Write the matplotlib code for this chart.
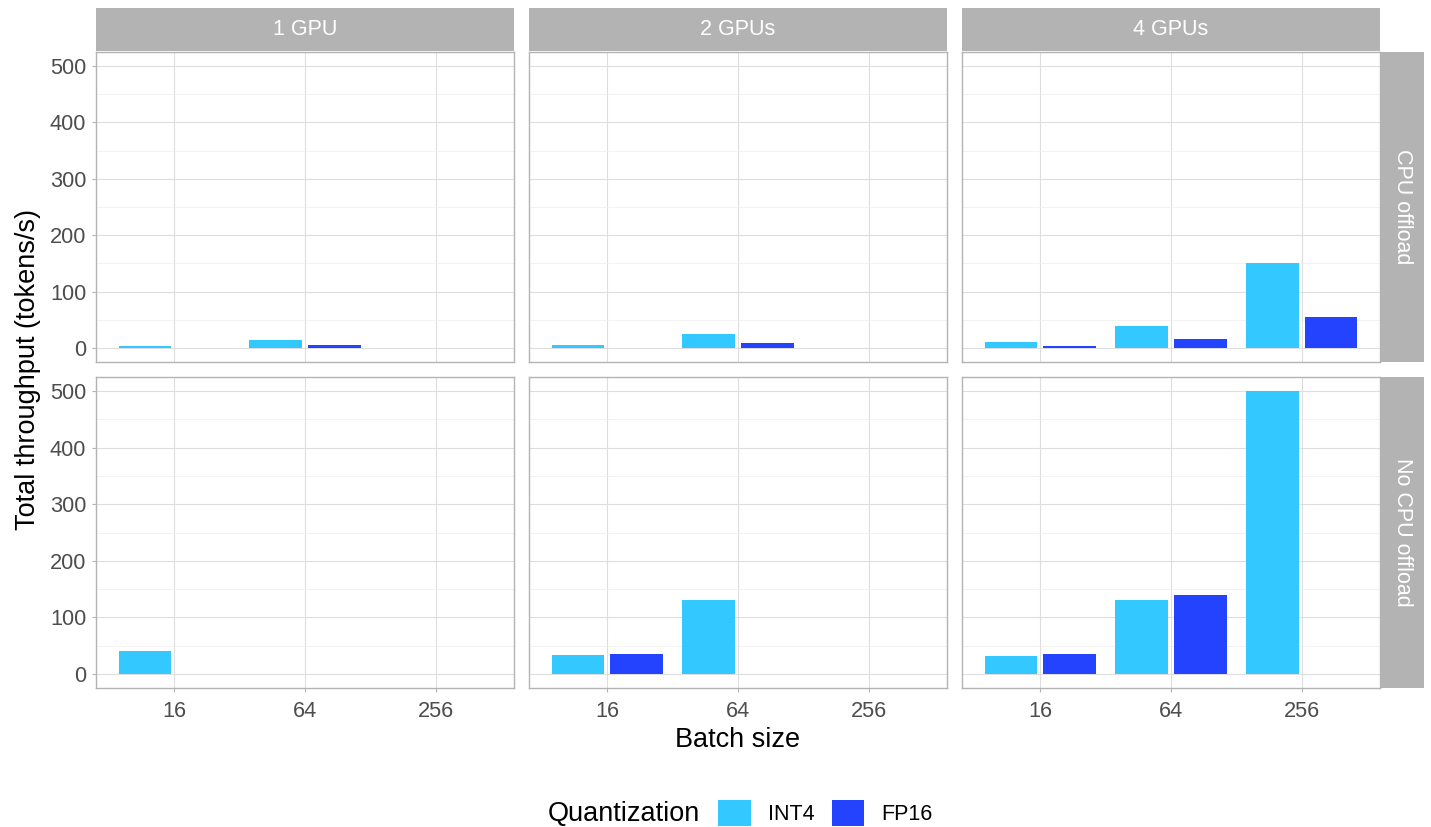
import numpy as np
import matplotlib
matplotlib.use("Agg")
import matplotlib.pyplot as plt
from matplotlib.patches import Patch
from matplotlib.ticker import MultipleLocator

plt.rcParams['font.family'] = ['Liberation Sans', 'DejaVu Sans']

# ---- data ----
batch_sizes = ["16", "64", "256"]
gpu_labels = ["1 GPU", "2 GPUs", "4 GPUs"]
offload_labels = ["CPU offload", "No CPU offload"]
series_labels = ["INT4", "FP16"]

# rows: 1 GPU, 2 GPUs, 4 GPUs ; columns: batch 16, 64, 256 (nan = no bar)
int4_cpu_offload = [[3.5, 14, np.nan], [6, 24, np.nan], [10, 39, 150]]
fp16_cpu_offload = [[0.6, 5, np.nan], [np.nan, 9, np.nan], [4, 15, 55]]
int4_no_offload = [[40, np.nan, np.nan], [33, 130, np.nan], [31, 130, 500]]
fp16_no_offload = [[np.nan, np.nan, np.nan], [35, np.nan, np.nan], [35, 140, np.nan]]

y_ticks = [0, 100, 200, 300, 400, 500]

# ---- style ----
col_int4 = "#33C8FF"
col_fp16 = "#2343FF"
strip_col = "#B3B3B3"
border_col = "#B3B3B3"
grid_major = "#DEDEDE"
grid_minor = "#EDEDED"
tick_col = "#4D4D4D"

W, H = 1431, 827
fig = plt.figure(figsize=(W / 100, H / 100), dpi=100)

def rect(x0, y0, x1, y1):
    return [x0 / W, 1 - y1 / H, (x1 - x0) / W, (y1 - y0) / H]

col_x = [(96, 514), (529, 947), (962, 1380)]
row_y = [(52, 362), (377, 688)]

data_rows = [(int4_cpu_offload, fp16_cpu_offload), (int4_no_offload, fp16_no_offload)]

bw = 0.405
off = 0.225
xpos = np.arange(1, len(batch_sizes) + 1)

for r, (y0, y1) in enumerate(row_y):
    int4_rows, fp16_rows = data_rows[r]
    for c, (x0, x1) in enumerate(col_x):
        ax = fig.add_axes(rect(x0, y0, x1, y1))
        ax.set_xlim(0.4, 3.6)
        ax.set_ylim(-25, 525)
        ax.set_axisbelow(True)
        ax.yaxis.set_major_locator(plt.FixedLocator(y_ticks))
        ax.yaxis.set_minor_locator(MultipleLocator(50))
        ax.set_xticks(xpos)
        ax.grid(True, which="major", color=grid_major, lw=0.8)
        ax.grid(True, which="minor", axis="y", color=grid_minor, lw=0.5)
        for s in ax.spines.values():
            s.set_color(border_col)
            s.set_linewidth(1.0)
        ax.tick_params(which="major", length=3, width=0.8, color=border_col,
                       labelcolor=tick_col, labelsize=15.7)
        ax.tick_params(axis="y", pad=4)
        ax.tick_params(axis="x", pad=6.5)
        ax.tick_params(which="minor", length=0)

        vi = np.array(int4_rows[c], dtype=float)
        vf = np.array(fp16_rows[c], dtype=float)
        mi = ~np.isnan(vi)
        mf = ~np.isnan(vf)
        ax.bar(xpos[mi] - off, vi[mi], width=bw, color=col_int4, lw=0)
        ax.bar(xpos[mf] + off, vf[mf], width=bw, color=col_fp16, lw=0)

        if c == 0:
            ax.set_yticklabels([str(t) for t in y_ticks])
        else:
            ax.set_yticklabels([])
            ax.tick_params(axis="y", which="major", length=0)
        if r == 1:
            ax.set_xticklabels(batch_sizes)
        else:
            ax.set_xticklabels([])
            ax.tick_params(axis="x", which="major", length=0)

        # top strips
        if r == 0:
            sa = fig.add_axes(rect(x0, 8, x1, 51))
            sa.set_facecolor(strip_col)
            sa.set_xticks([]); sa.set_yticks([])
            for s in sa.spines.values():
                s.set_visible(False)
            sa.text(0.5, 0.5, gpu_labels[c], color="white", fontsize=15.5,
                    ha="center", va="center", transform=sa.transAxes)
    # right strips
    sa = fig.add_axes(rect(1381, y0, 1424, y1))
    sa.set_facecolor(strip_col)
    sa.set_xticks([]); sa.set_yticks([])
    for s in sa.spines.values():
        s.set_visible(False)
    sa.text(0.5, 0.5, offload_labels[r], color="white", fontsize=15.5, rotation=-90,
            ha="center", va="center", transform=sa.transAxes)

fig.text(738 / W, 1 - 740 / H, "Batch size", fontsize=19.5, ha="center", va="center")
fig.text(28 / W, 1 - 370 / H, "Total throughput (tokens/s)", fontsize=19.5,
         rotation=90, ha="center", va="center")

fig.text(548 / W, 1 - 814 / H, "Quantization", fontsize=19.5, ha="left", va="center")
handles = [Patch(facecolor=col_int4, edgecolor="none"),
           Patch(facecolor=col_fp16, edgecolor="none")]
fig.legend(handles, series_labels, loc="center left", bbox_to_anchor=(712 / W, 1 - 813 / H),
           ncol=2, frameon=False, fontsize=15.5, handlelength=1.5, handleheight=1.45,
           handletextpad=0.8, columnspacing=0.8, borderaxespad=0, borderpad=0.3)

fig.savefig("out.png", dpi=100, facecolor="white")
